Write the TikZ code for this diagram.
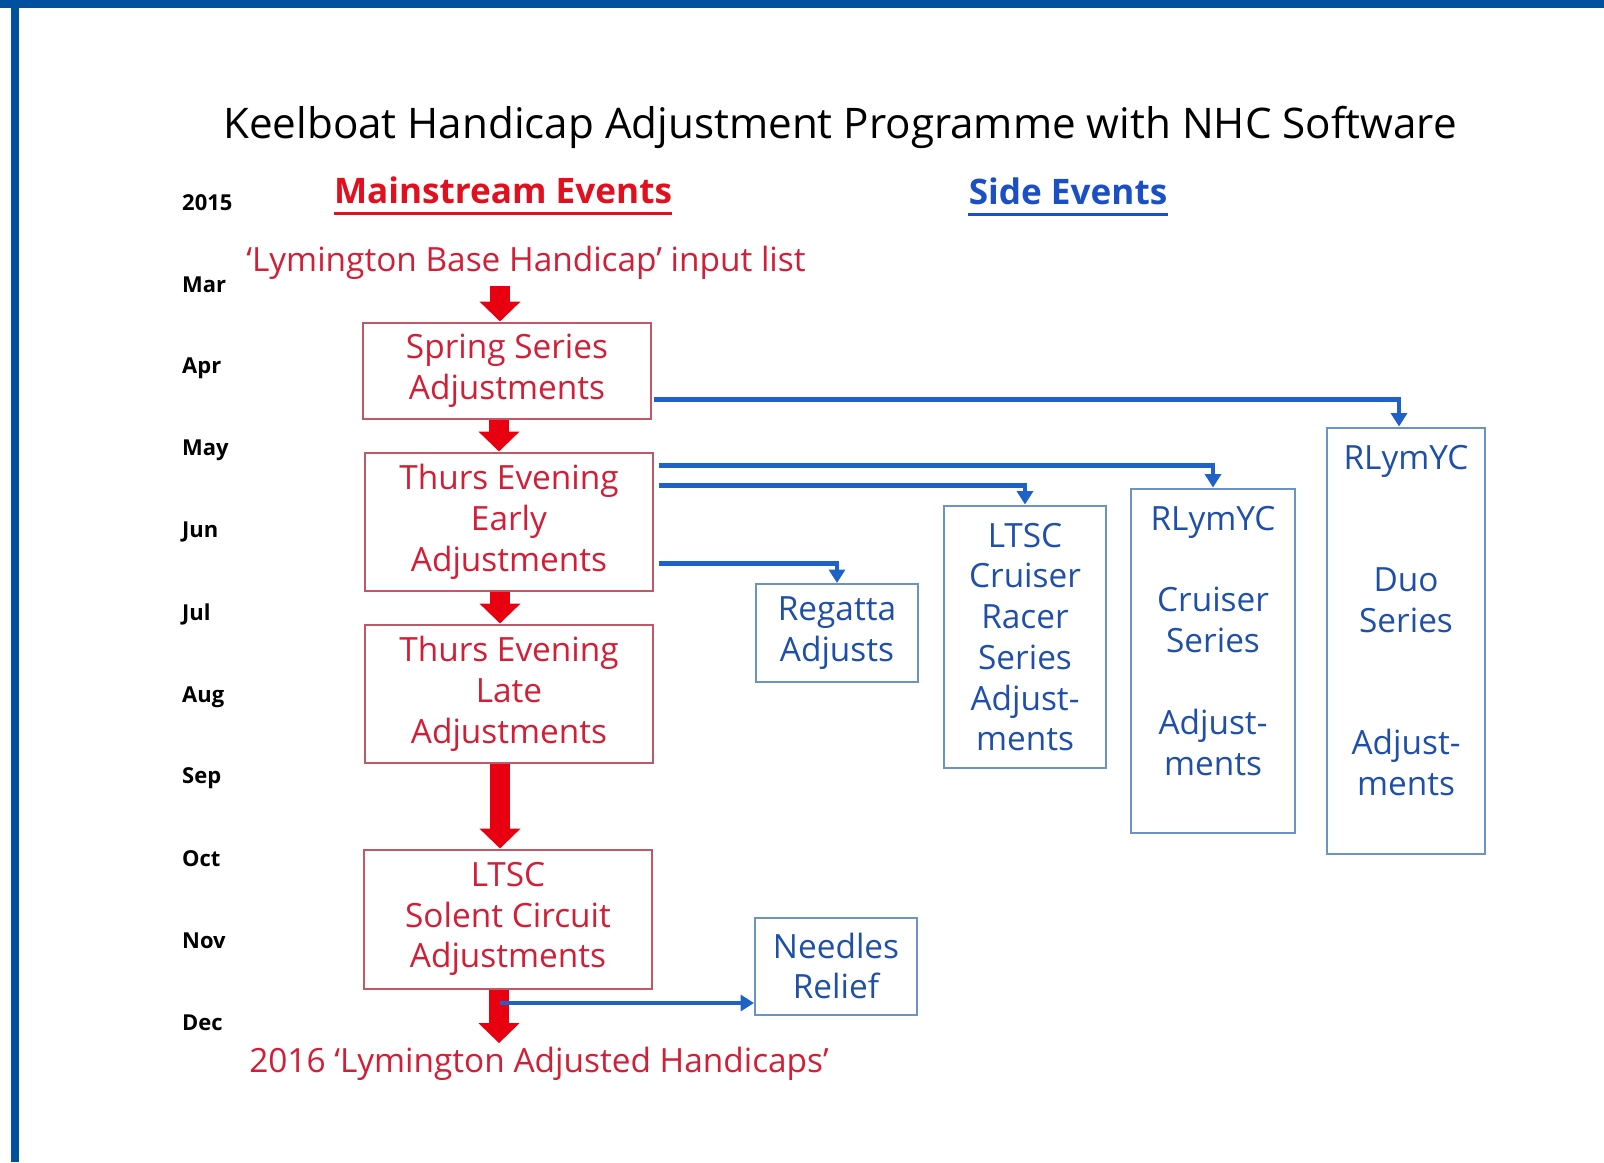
\documentclass[tikz,border=0pt]{standalone}
\usepackage{fontspec}
\setmainfont{Open Sans}
\usepackage{tikz}
\usetikzlibrary{positioning,arrows.meta}
\definecolor{frame}{HTML}{0050A0}
\definecolor{mainred}{HTML}{D21E36}
\definecolor{headred}{HTML}{E0101E}
\definecolor{arrowred}{HTML}{E80010}
\definecolor{sideblue}{HTML}{1F4FA8}
\definecolor{headblue}{HTML}{1B4FC4}
\definecolor{linkblue}{HTML}{1E62C8}
\definecolor{redline}{HTML}{C05868}
\definecolor{blueline}{HTML}{6A94C4}

\begin{document}
\begin{tikzpicture}[
    x=0.02cm, y=-0.02cm,
    mainbox/.style = {rectangle, draw=redline, line width=0.04cm, text=mainred, minimum width=5.76cm, align=center, inner sep=0pt, font=\fontsize{19}{23.2}\selectfont},
    sidebox/.style = {rectangle, draw=blueline, line width=0.04cm, text=sideblue, minimum width=3.24cm, align=center, inner sep=0pt, font=\fontsize{19}{23.2}\selectfont},
    redtext/.style = {text=mainred, font=\fontsize{19}{23.2}\selectfont},
    heading/.style = {inner sep=0pt, font=\bfseries\fontsize{20}{24}\selectfont},
    month/.style = {anchor=west, font=\bfseries\fontsize{12.5}{15}\selectfont},
    redarrow/.style = {draw=arrowred, line width=0.4cm, -{Triangle[width=0.8cm,length=0.4cm]}},
    bluearrow/.style = {draw=linkblue, line width=0.09cm, -{Triangle[width=0.32cm,length=0.27cm]}},
]
    \useasboundingbox (0,0) rectangle (1604,1162);
    % frame
    \fill[frame] (0,0) rectangle (1604,8);
    \fill[frame] (11,0) rectangle (19,1162);

    % headings
    \node[font=\fontsize{24}{28}\selectfont] (title) at (840,127) {Keelboat Handicap Adjustment Programme with NHC Software};
    \node[heading, text=headred] (mainhead) at (503,190) {Mainstream Events};
    \node[heading, text=headblue] (sidehead) at (1068,191) {Side Events};
    \draw[headred, line width=0.06cm] ([yshift=-0.2cm]mainhead.base west) -- ([yshift=-0.2cm]mainhead.base east);
    \draw[headblue, line width=0.06cm] ([yshift=-0.2cm]sidehead.base west) -- ([yshift=-0.2cm]sidehead.base east);

    % months
    \node[month] (y2015) at (176,203) {2015};
    \node[month] (mar) at (176,285) {Mar};
    \node[month] (apr) at (176,368) {Apr};
    \node[month] (may) at (176,450) {May};
    \node[month] (jun) at (176,532) {Jun};
    \node[month] (jul) at (176,614) {Jul};
    \node[month] (aug) at (176,697) {Aug};
    \node[month] (sep) at (176,778) {Sep};
    \node[month] (oct) at (176,859) {Oct};
    \node[month] (nov) at (176,941) {Nov};
    \node[month] (dec) at (176,1023) {Dec};

    % mainstream events
    \node[redtext] (base) at (526,263) {`Lymington Base Handicap' input list};
    \node[mainbox, minimum height=1.94cm] (spring) at (507,371) {Spring Series\\Adjustments};
    \node[mainbox, minimum height=2.78cm] (early) at (509,522) {Thurs Evening\\Early\\Adjustments};
    \node[mainbox, minimum height=2.78cm] (late) at (509,694) {Thurs Evening\\Late\\Adjustments};
    \node[mainbox, minimum height=2.78cm] (solent) at (508,919) {LTSC\\Solent Circuit\\Adjustments};
    \node[redtext] (result) at (539,1064) {2016 `Lymington Adjusted Handicaps'};

    % side events
    \node[sidebox, minimum height=1.96cm] (regatta) at (837,633) {Regatta\\Adjusts};
    \node[sidebox, minimum height=5.26cm] (ltsc) at (1025,637) {LTSC\\Cruiser\\Racer\\Series\\Adjust-\\ments};
    \node[sidebox, minimum width=3.28cm, minimum height=6.9cm] (cruiser) at (1213,661) {RLymYC\\ \\Cruiser\\Series\\ \\Adjust-\\ments\\ };
    \node[sidebox, minimum width=3.16cm, minimum height=8.54cm] (duo) at (1406,641) {RLymYC\\ \\ \\Duo\\Series\\ \\ \\Adjust-\\ments\\ };
    \node[sidebox, minimum height=1.94cm] (needles) at (836,966) {Needles\\Relief};

    % red flow
    \draw[redarrow] ([xshift=-0.14cm]spring.north |- base.south) -- ([xshift=-0.14cm]spring.north);
    \draw[redarrow] ([xshift=-0.16cm]spring.south) -- ([xshift=-0.16cm]spring.south |- early.north);
    \draw[redarrow] ([xshift=-0.18cm]early.south) -- ([xshift=-0.18cm]early.south |- late.north);
    \draw[redarrow] ([xshift=-0.18cm]late.south) -- ([xshift=-0.18cm]late.south |- solent.north);
    \draw[redarrow] ([xshift=-0.18cm]solent.south) -- ([xshift=-0.18cm,yshift=-0.04cm]solent.south |- result.north);

    % blue links
    \draw[bluearrow] ([xshift=0.04cm,yshift=-0.57cm]spring.east) -| ([xshift=-0.14cm]duo.north);
    \draw[bluearrow] ([xshift=0.1cm,yshift=1.13cm]early.east) -| (cruiser.north);
    \draw[bluearrow] ([xshift=0.1cm,yshift=0.73cm]early.east) -| (ltsc.north);
    \draw[bluearrow] ([xshift=0.1cm,yshift=-0.83cm]early.east) -| (regatta.north);
    \coordinate (needlesfrom) at (500,1003);
    \draw[bluearrow] (needlesfrom) -- (needles.west |- needlesfrom);
\end{tikzpicture}
\end{document}
